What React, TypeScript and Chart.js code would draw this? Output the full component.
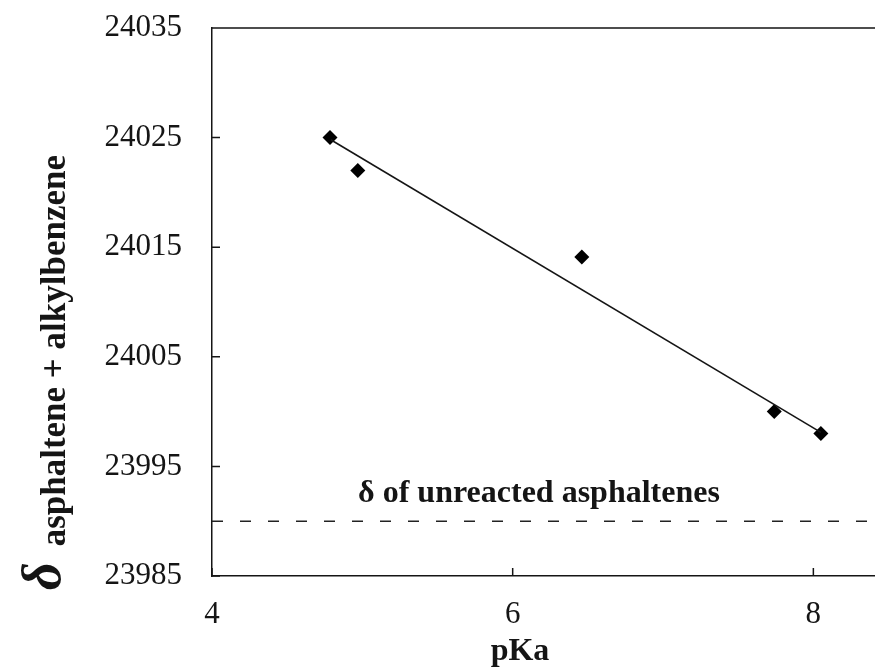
import React, { useEffect, useRef } from "react";
import { Chart, registerables } from "chart.js";

Chart.register(...registerables);

// ---- data ----
const pKaValues = [4.785, 4.97, 6.46, 7.74, 8.05];
const deltaValues = [24025.0, 24022.0, 24014.1, 24000.0, 23998.0];
const trendX = [4.79, 8.05];
const trendY = [24024.8, 23998.1];
const baselineX = [4, 8.41];
const baselineY = [23990, 23990];
const xTicks = [4, 6, 8];
const yTicks = [23985, 23995, 24005, 24015, 24025, 24035];
const xTitle = "pKa";
const yTitleSymbol = "δ";
const yTitleSub = "asphaltene + alkylbenzene";
const annotationText = "δ of unreacted asphaltenes";

const FONT = "'Liberation Serif', 'Times New Roman', serif";
const INK = "#151515";

const decorPlugin = {
  id: "decor",
  afterDraw(chart: any) {
    const { ctx, chartArea, scales } = chart;
    const { left, right, top, bottom } = chartArea;
    const x = scales.x;
    const y = scales.y;
    ctx.save();
    ctx.strokeStyle = INK;
    ctx.lineWidth = 1.5;
    ctx.beginPath();
    ctx.moveTo(left, top);
    ctx.lineTo(right, top);
    xTicks.forEach((v) => {
      const px = x.getPixelForValue(v);
      ctx.moveTo(px, bottom);
      ctx.lineTo(px, bottom - 8);
    });
    yTicks.forEach((v) => {
      const py = y.getPixelForValue(v);
      ctx.moveTo(left, py);
      ctx.lineTo(left + 8, py);
    });
    ctx.stroke();

    ctx.fillStyle = INK;
    // annotation
    ctx.font = `bold 32px ${FONT}`;
    ctx.textAlign = "center";
    ctx.textBaseline = "alphabetic";
    ctx.fillText(annotationText, left + 327, y.getPixelForValue(baselineY[0]) - 19);

    // x title
    ctx.font = `bold 32px ${FONT}`;
    ctx.fillText(xTitle, 520, 660);

    // y title (rotated)
    ctx.save();
    ctx.translate(60, 590);
    ctx.rotate(-Math.PI / 2);
    ctx.textAlign = "left";
    ctx.font = `italic bold 54px ${FONT}`;
    ctx.fillText(yTitleSymbol, 0, 0);
    const w = ctx.measureText(yTitleSymbol).width;
    ctx.font = `bold 35px ${FONT}`;
    ctx.fillText(yTitleSub, w + 16, 5);
    ctx.restore();

    ctx.restore();
  },
};

const zeroPadding = (s: any) => {
  s.paddingLeft = 0;
  s.paddingRight = 0;
  s.paddingTop = 0;
  s.paddingBottom = 0;
};

export default function App() {
  const ref = useRef<HTMLCanvasElement | null>(null);
  useEffect(() => {
    document.body.style.margin = "0";
    const canvas = ref.current;
    if (!canvas) return;
    const chart = new Chart(canvas, {
      type: "scatter",
      data: {
        datasets: [
          {
            label: "trend",
            type: "line",
            data: trendX.map((v, i) => ({ x: v, y: trendY[i] })),
            borderColor: INK,
            borderWidth: 1.6,
            pointRadius: 0,
            fill: false,
          },
          {
            label: "unreacted",
            type: "line",
            data: baselineX.map((v, i) => ({ x: v, y: baselineY[i] })),
            borderColor: "#222",
            borderWidth: 1.6,
            borderDash: [11, 17],
            pointRadius: 0,
            fill: false,
          },
          {
            label: "data",
            data: pKaValues.map((v, i) => ({ x: v, y: deltaValues[i] })),
            pointStyle: "rectRot",
            pointRadius: 7.5,
            backgroundColor: "#000",
            borderColor: "#000",
            borderWidth: 0,
          },
        ],
      },
      options: {
        animation: false,
        responsive: false,
        devicePixelRatio: 1,
        layout: {
          autoPadding: false,
          padding: { left: 0, top: 28, right: 0, bottom: 0 },
        },
        plugins: { legend: { display: false }, tooltip: { enabled: false } },
        scales: {
          x: {
            type: "linear",
            min: 4,
            max: 8.41,
            afterBuildTicks: (s: any) => {
              s.ticks = xTicks.map((v) => ({ value: v }));
            },
            afterFit: (s: any) => {
              s.height = 96;
              zeroPadding(s);
            },
            grid: { display: false, drawTicks: false },
            border: { display: true, color: INK, width: 1.5 },
            ticks: {
              padding: 20,
              color: INK,
              font: { family: FONT, size: 31 },
              maxRotation: 0,
              autoSkip: false,
              callback: (v: any) => String(v),
            },
          },
          y: {
            type: "linear",
            min: 23985,
            max: 24035,
            afterBuildTicks: (s: any) => {
              s.ticks = yTicks.map((v) => ({ value: v }));
            },
            afterFit: (s: any) => {
              s.width = 212;
              zeroPadding(s);
            },
            grid: { display: false, drawTicks: false },
            border: { display: true, color: INK, width: 1.5 },
            ticks: {
              padding: 30,
              color: INK,
              font: { family: FONT, size: 31 },
              autoSkip: false,
              callback: (v: any) => String(v),
            },
          },
        },
      },
      plugins: [decorPlugin],
    });
    return () => chart.destroy();
  }, []);
  return (
    <canvas
      ref={ref}
      width={875}
      height={672}
      style={{ display: "block", width: 875, height: 672 }}
    />
  );
}
